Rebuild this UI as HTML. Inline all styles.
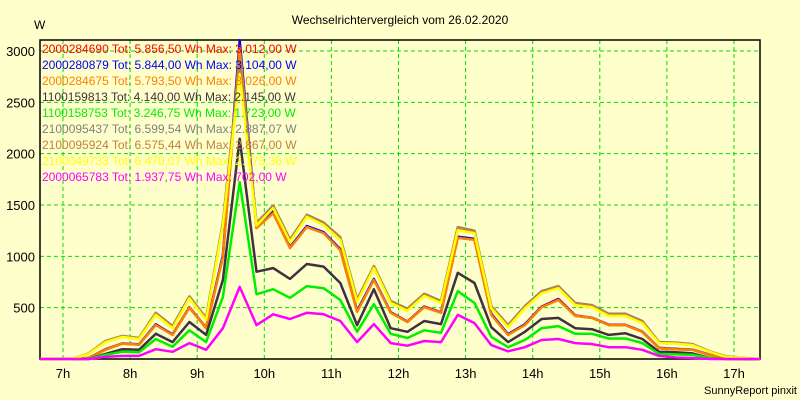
<!DOCTYPE html>
<html><head><meta charset="utf-8"><style>
body{margin:0;background:#ffffcc;}
svg{display:block;font-family:"Liberation Sans",Arial,sans-serif;}
</style></head><body>
<svg id="chart" width="800" height="400">
<rect x="0" y="0" width="800" height="400" fill="#ffffcc"/>
<text x="400" y="24" text-anchor="middle" font-size="12">Wechselrichtervergleich vom 26.02.2020</text>
<text x="34" y="29" font-size="12">W</text>
<text x="797" y="394" text-anchor="end" font-size="11">SunnyReport pinxit</text>
<g id="grid"></g><g id="axes"></g><g id="series"></g><g id="legend"></g>
</svg>
<script>
const xTickHours=[7,8,9,10,11,12,13,14,15,16,17];
const yTicks=[500,1000,1500,2000,2500,3000];
const startMin=6*60+38, stepMin=15;
const seriesNames=["2000284690","2000280879","2000284675","1100159813","1100158753","2100095437","2100095924","2100049733","2000065783"];
const seriesLabels=["Tot: 5.856,50 Wh Max: 3.012,00 W","Tot: 5.844,00 Wh Max: 3.104,00 W","Tot: 5.793,50 Wh Max: 3.026,00 W","Tot: 4.140,00 Wh Max: 2.145,00 W","Tot: 3.246,75 Wh Max: 1.723,00 W","Tot: 6.599,54 Wh Max: 2.887,07 W","Tot: 6.575,44 Wh Max: 2.867,00 W","Tot: 6.470,07 Wh Max: 2.775,36 W","Tot: 1.937,75 Wh Max: 702,00 W"];
const seriesColors=["#ff0000","#0000ff","#ff8000","#403040","#00ee00","#808080","#c08040","#ffff00","#ff00ff"];
const sRed=[0,0,0,10,95,150,140,335,240,505,305,1000,3012,1280,1430,1085,1290,1230,1065,465,775,455,365,510,455,1185,1165,435,240,335,510,585,425,400,335,330,265,105,95,90,40,10,0,0];
const sBlue=[0,0,0,10,92,152,142,338,238,502,302,1010,3104,1290,1440,1090,1295,1235,1070,470,780,455,362,508,452,1190,1170,440,242,338,508,580,422,402,332,332,268,108,98,92,42,12,0,0];
const sOrange=[0,0,0,10,90,150,140,330,235,500,300,990,3026,1275,1420,1080,1285,1225,1060,460,770,450,360,505,450,1180,1160,430,235,330,505,575,420,400,330,330,265,105,95,90,40,10,0,0];
const sDark=[0,0,0,0,50,95,90,245,165,360,235,770,2145,850,885,780,925,900,740,330,680,300,265,370,340,840,740,310,165,265,390,400,300,290,235,250,195,70,65,55,10,0,0,0];
const sGreen=[0,0,0,0,40,70,65,195,120,280,165,605,1723,630,680,595,710,690,575,265,535,245,205,280,255,660,545,215,115,185,300,320,245,245,200,200,155,50,45,40,10,0,0,0];
const sGray=[0,0,0,55,175,225,205,450,320,610,400,1330,2887,1325,1495,1165,1405,1330,1185,580,905,565,490,635,565,1285,1250,515,330,515,660,710,545,525,440,440,370,165,160,145,75,25,10,0];
const sBrown=[0,0,0,52,172,222,202,445,315,605,395,1320,2867,1318,1490,1160,1400,1325,1180,575,900,560,485,630,560,1280,1245,510,325,510,655,705,540,520,435,435,365,160,155,140,72,22,10,0];
const sYellow=[0,0,0,50,165,215,195,430,300,590,380,1300,2775,1300,1470,1140,1385,1305,1160,555,885,545,470,615,545,1255,1225,495,310,495,640,690,525,505,420,420,350,155,150,135,70,20,10,0];
const sMagenta=[0,0,0,0,20,30,30,95,70,155,90,300,702,330,435,390,450,435,370,165,340,155,130,175,165,430,350,135,75,115,185,195,155,145,115,115,90,30,15,10,0,0,0,0];
const allSeries=[sRed,sBlue,sOrange,sDark,sGreen,sGray,sBrown,sYellow,sMagenta];

const NS="http://www.w3.org/2000/svg";
const L=40,R=760,T=40,B=359;
const xOfMin=m=>63+(m-420)*67.1/60;
const yOf=v=>B-v*(B-51)/3000;
function mk(tag,attrs,parent){const e=document.createElementNS(NS,tag);for(const k in attrs)e.setAttribute(k,attrs[k]);parent.appendChild(e);return e;}
const grid=document.getElementById('grid'),axes=document.getElementById('axes'),ser=document.getElementById('series'),leg=document.getElementById('legend');
xTickHours.forEach(h=>{
  const x=xOfMin(h*60);
  const g=mk('line',{x1:x,x2:x,y1:T,y2:B,stroke:'#00dd00','stroke-dasharray':'4,3'},grid);
  
  
  const t=mk('text',{x:x,y:378,'text-anchor':'middle','font-size':'13'},axes);
  t.textContent=h+'h';
  
  
});
yTicks.forEach(v=>{
  const y=yOf(v);
  const g=mk('line',{x1:L,x2:R,y1:y,y2:y,stroke:'#00dd00','stroke-dasharray':'4,3'},grid);
  
  
  const t=mk('text',{x:35,y:y+5,'text-anchor':'end','font-size':'13'},axes);
  t.textContent=v;
  
  
});
const frame=mk('rect',{x:L,y:T,width:R-L,height:B-T,fill:'none',stroke:'#000','stroke-width':1.5},axes);


allSeries.forEach((s,i)=>{
  const pts=s.map((v,k)=>{const x=Math.max(L,Math.min(R,xOfMin(startMin+k*stepMin)));return x.toFixed(1)+','+yOf(v).toFixed(1);}).join(' ');
  const p=mk('polyline',{points:pts,fill:'none',stroke:seriesColors[i],'stroke-width':2.5,'stroke-linejoin':'round'},ser);
  
  
});
seriesNames.forEach((n,i)=>{
  const t=mk('text',{x:42,y:53+i*16,'font-size':'12',fill:seriesColors[i]},leg);
  t.textContent=n+' '+seriesLabels[i];
  
  
});
</script>
</body></html>
